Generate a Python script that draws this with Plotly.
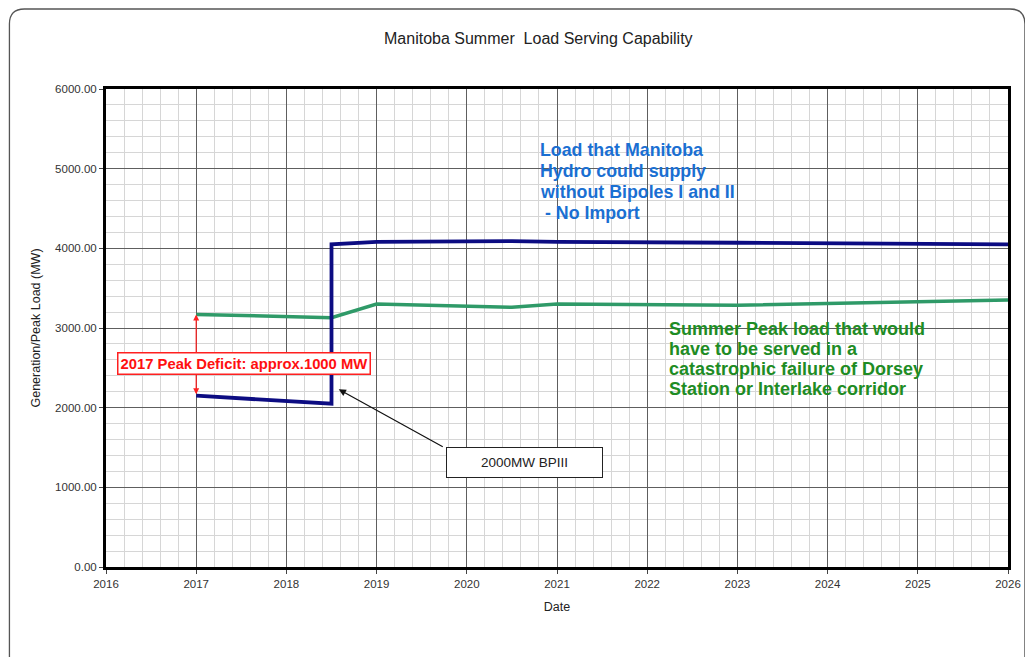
import plotly.graph_objects as go

# ---- data ----
blue_x = [2017, 2018.5, 2018.5, 2019, 2020.5, 2021, 2023, 2026]
blue_y = [2150, 2050, 4050, 4080, 4090, 4080, 4070, 4050]
green_x = [2017, 2018.5, 2019, 2020.5, 2021, 2023, 2026]
green_y = [3170, 3130, 3300, 3260, 3300, 3285, 3350]
x_ticks = [2016, 2017, 2018, 2019, 2020, 2021, 2022, 2023, 2024, 2025, 2026]
y_ticks = [0, 1000, 2000, 3000, 4000, 5000, 6000]
blue_text = ["Load that Manitoba", "Hydro could supply", "without Bipoles I and II", " - No Import"]
green_text = ["Summer Peak load that would", "have to be served in a",
              "catastrophic failure of Dorsey", "Station or Interlake corridor"]

OFF = 8  # page body margin
W, H = 1033 - OFF, 657 - OFF
# plot area in page pixel coordinates
L, R, T, B = 106, 1012, 89, 567

def px(xp):
    return (xp - L) / (R - L)

def py(yp):
    return (B - yp) / (B - T)

FONT = "Liberation Sans, Arial, sans-serif"

fig = go.Figure()
fig.add_trace(go.Scatter(x=green_x, y=green_y, mode="lines",
                         line=dict(color="#2f9a68", width=3.5), showlegend=False))
fig.add_trace(go.Scatter(x=blue_x, y=blue_y, mode="lines",
                         line=dict(color="#0c0c82", width=3.8), showlegend=False))

fig.update_layout(
    width=W, height=H,
    margin=dict(l=L - OFF, r=W - (R - OFF), t=T - OFF, b=H - (B - OFF)),
    paper_bgcolor="white", plot_bgcolor="white",
    font=dict(family=FONT, color="#222"),
    showlegend=False,
)

fig.update_xaxes(
    range=[2016, 2026], tickvals=x_ticks, tickformat="d",
    showgrid=True, gridcolor="#5e5e5e", gridwidth=1,
    minor=dict(dtick=0.2, showgrid=True, gridcolor="#d6d6d6", gridwidth=1),
    showline=True, linecolor="black", linewidth=3, mirror=True,
    ticks="outside", ticklen=4, tickcolor="#444",
    tickfont=dict(size=11.5, color="#333"),
    title=dict(text="Date", font=dict(size=12.5, color="#222"), standoff=14),
    zeroline=False,
)
fig.update_yaxes(
    range=[0, 6000], tickvals=y_ticks, tickformat=".2f",
    showgrid=True, gridcolor="#5e5e5e", gridwidth=1,
    minor=dict(dtick=200, showgrid=True, gridcolor="#d6d6d6", gridwidth=1),
    showline=True, linecolor="black", linewidth=3, mirror=True,
    ticks="outside", ticklen=4, tickcolor="#444",
    tickfont=dict(size=11.5, color="#333"),
    title=dict(text="Generation/Peak Load (MW)", font=dict(size=12.5, color="#222"), standoff=12),
    zeroline=False,
)

# title
fig.add_annotation(xref="paper", yref="paper", x=px(540), y=py(38),
                   text="Manitoba Summer  Load Serving Capability", showarrow=False,
                   font=dict(size=16, color="#222"), xanchor="center", yanchor="middle")

# outer rounded border
l0, r0, t0, b0 = px(9), px(1029), py(9), py(670)
rx, ry = 15 / (R - L), 15 / (B - T)
path = (f"M {l0},{b0} L {l0},{t0 - ry} Q {l0},{t0} {l0 + rx},{t0} "
        f"L {r0 - rx},{t0} Q {r0},{t0} {r0},{t0 - ry} L {r0},{b0}")
fig.add_shape(type="path", xref="paper", yref="paper", path=path,
              line=dict(color="#555", width=1.3), layer="above")

# red double arrow (2017 deficit)
fig.add_annotation(x=2017, y=green_y[0], ax=2017, ay=blue_y[0],
                   xref="x", yref="y", axref="x", ayref="y",
                   showarrow=True, arrowhead=2, startarrowhead=2, arrowside="end+start",
                   arrowsize=1, arrowwidth=1.2, arrowcolor="#ff2020", text="")
fig.add_annotation(xref="paper", yref="paper", x=px(244.5), y=py(363),
                   text="<b>2017 Peak Deficit: approx.1000 MW</b>", showarrow=False,
                   font=dict(size=14.8, color="#ff1010"), bgcolor="white",
                   bordercolor="#ff2020", borderwidth=1.5, borderpad=2,
                   xanchor="center", yanchor="middle")

# black arrow to BPIII
fig.add_annotation(x=2018.58, y=2230, ax=2019.75, ay=1500,
                   xref="x", yref="y", axref="x", ayref="y",
                   showarrow=True, arrowhead=2, arrowsize=1.2, arrowwidth=1.2,
                   arrowcolor="#111", text="")
fig.add_annotation(xref="paper", yref="paper", x=px(526.5), y=py(462.5),
                   text="2000MW BPIII", showarrow=False,
                   font=dict(size=13.5, color="#222"), bgcolor="white",
                   bordercolor="#222", borderwidth=1, borderpad=7,
                   width=141, xanchor="center", yanchor="middle")

# blue text, one annotation per line
for i, t in enumerate(blue_text):
    fig.add_annotation(xref="paper", yref="paper", x=px(540), y=py(150 + i * 21),
                       text=f"<b>{t}</b>", showarrow=False, xanchor="left", yanchor="middle",
                       font=dict(size=17.8, color="#1a6fd2"))

# green text, one annotation per line
for i, t in enumerate(green_text):
    fig.add_annotation(xref="paper", yref="paper", x=px(669), y=py(329 + i * 20),
                       text=f"<b>{t}</b>", showarrow=False, xanchor="left", yanchor="middle",
                       font=dict(size=18, color="#1e8c24"))

fig.write_html("out.html")
